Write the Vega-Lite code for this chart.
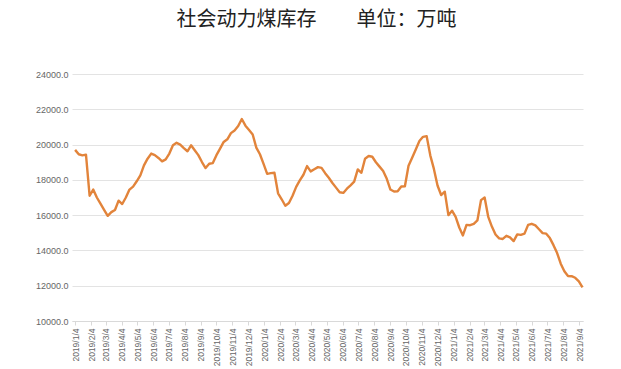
{
  "$schema": "https://vega.github.io/schema/vega-lite/v6.json",
  "width": 511,
  "height": 247,
  "autosize": "none",
  "padding": {"left": 72, "top": 74, "right": 38, "bottom": 48},
  "background": "white",
  "title": {
    "text": "社会动力煤库存　　单位：万吨",
    "font": "Noto Sans CJK SC",
    "fontSize": 20,
    "fontWeight": "normal",
    "color": "#222222",
    "anchor": "middle",
    "dx": -11,
    "offset": 40
  },
  "config": {"view": {"stroke": null}},
  "data": {
    "values": [
      {"d": "2019/1/4", "v": 19700}, {"d": "2019/1/11", "v": 19450}, {"d": "2019/1/18", "v": 19390}, {"d": "2019/1/25", "v": 19430},
      {"d": "2019/2/1", "v": 17100}, {"d": "2019/2/8", "v": 17450}, {"d": "2019/2/15", "v": 17000}, {"d": "2019/2/22", "v": 16650},
      {"d": "2019/3/1", "v": 16300}, {"d": "2019/3/8", "v": 15960}, {"d": "2019/3/15", "v": 16170}, {"d": "2019/3/22", "v": 16290}, {"d": "2019/3/29", "v": 16820},
      {"d": "2019/4/5", "v": 16630}, {"d": "2019/4/12", "v": 17000}, {"d": "2019/4/19", "v": 17450}, {"d": "2019/4/26", "v": 17620},
      {"d": "2019/5/3", "v": 17920}, {"d": "2019/5/10", "v": 18250}, {"d": "2019/5/17", "v": 18820}, {"d": "2019/5/24", "v": 19200}, {"d": "2019/5/31", "v": 19490},
      {"d": "2019/6/7", "v": 19400}, {"d": "2019/6/14", "v": 19240}, {"d": "2019/6/21", "v": 19050}, {"d": "2019/6/28", "v": 19160},
      {"d": "2019/7/5", "v": 19490}, {"d": "2019/7/12", "v": 19960}, {"d": "2019/7/19", "v": 20100}, {"d": "2019/7/26", "v": 20000},
      {"d": "2019/8/2", "v": 19800}, {"d": "2019/8/9", "v": 19620}, {"d": "2019/8/16", "v": 19960}, {"d": "2019/8/23", "v": 19680}, {"d": "2019/8/30", "v": 19400},
      {"d": "2019/9/6", "v": 19010}, {"d": "2019/9/13", "v": 18670}, {"d": "2019/9/20", "v": 18910}, {"d": "2019/9/27", "v": 18950},
      {"d": "2019/10/4", "v": 19400}, {"d": "2019/10/11", "v": 19770}, {"d": "2019/10/18", "v": 20150}, {"d": "2019/10/25", "v": 20300},
      {"d": "2019/11/1", "v": 20650}, {"d": "2019/11/8", "v": 20800}, {"d": "2019/11/15", "v": 21050}, {"d": "2019/11/22", "v": 21450}, {"d": "2019/11/29", "v": 21070},
      {"d": "2019/12/6", "v": 20820}, {"d": "2019/12/13", "v": 20570}, {"d": "2019/12/20", "v": 19830}, {"d": "2019/12/27", "v": 19450},
      {"d": "2020/1/3", "v": 18910}, {"d": "2020/1/10", "v": 18340}, {"d": "2020/1/17", "v": 18380}, {"d": "2020/1/24", "v": 18400}, {"d": "2020/1/31", "v": 17240},
      {"d": "2020/2/7", "v": 16900}, {"d": "2020/2/14", "v": 16530}, {"d": "2020/2/21", "v": 16690}, {"d": "2020/2/28", "v": 17100},
      {"d": "2020/3/6", "v": 17600}, {"d": "2020/3/13", "v": 17970}, {"d": "2020/3/20", "v": 18290}, {"d": "2020/3/27", "v": 18780},
      {"d": "2020/4/3", "v": 18480}, {"d": "2020/4/10", "v": 18600}, {"d": "2020/4/17", "v": 18720}, {"d": "2020/4/24", "v": 18680},
      {"d": "2020/5/1", "v": 18380}, {"d": "2020/5/8", "v": 18120}, {"d": "2020/5/15", "v": 17820}, {"d": "2020/5/22", "v": 17560}, {"d": "2020/5/29", "v": 17300},
      {"d": "2020/6/5", "v": 17260}, {"d": "2020/6/12", "v": 17500}, {"d": "2020/6/19", "v": 17690}, {"d": "2020/6/26", "v": 17900},
      {"d": "2020/7/3", "v": 18590}, {"d": "2020/7/10", "v": 18400}, {"d": "2020/7/17", "v": 19200}, {"d": "2020/7/24", "v": 19350}, {"d": "2020/7/31", "v": 19310},
      {"d": "2020/8/7", "v": 19000}, {"d": "2020/8/14", "v": 18750}, {"d": "2020/8/21", "v": 18500}, {"d": "2020/8/28", "v": 18060},
      {"d": "2020/9/4", "v": 17450}, {"d": "2020/9/11", "v": 17340}, {"d": "2020/9/18", "v": 17350}, {"d": "2020/9/25", "v": 17620},
      {"d": "2020/10/2", "v": 17640}, {"d": "2020/10/9", "v": 18800}, {"d": "2020/10/16", "v": 19250}, {"d": "2020/10/23", "v": 19720}, {"d": "2020/10/30", "v": 20200},
      {"d": "2020/11/6", "v": 20440}, {"d": "2020/11/13", "v": 20480}, {"d": "2020/11/20", "v": 19390}, {"d": "2020/11/27", "v": 18620},
      {"d": "2020/12/4", "v": 17680}, {"d": "2020/12/11", "v": 17140}, {"d": "2020/12/18", "v": 17330}, {"d": "2020/12/25", "v": 16000},
      {"d": "2021/1/1", "v": 16250}, {"d": "2021/1/8", "v": 15900}, {"d": "2021/1/15", "v": 15300}, {"d": "2021/1/22", "v": 14850}, {"d": "2021/1/29", "v": 15450},
      {"d": "2021/2/5", "v": 15430}, {"d": "2021/2/12", "v": 15500}, {"d": "2021/2/19", "v": 15700}, {"d": "2021/2/26", "v": 16850},
      {"d": "2021/3/5", "v": 17000}, {"d": "2021/3/12", "v": 15900}, {"d": "2021/3/19", "v": 15350}, {"d": "2021/3/26", "v": 14900},
      {"d": "2021/4/2", "v": 14680}, {"d": "2021/4/9", "v": 14650}, {"d": "2021/4/16", "v": 14830}, {"d": "2021/4/23", "v": 14740}, {"d": "2021/4/30", "v": 14530},
      {"d": "2021/5/7", "v": 14910}, {"d": "2021/5/14", "v": 14880}, {"d": "2021/5/21", "v": 14950}, {"d": "2021/5/28", "v": 15450},
      {"d": "2021/6/4", "v": 15510}, {"d": "2021/6/11", "v": 15420}, {"d": "2021/6/18", "v": 15200}, {"d": "2021/6/25", "v": 14980},
      {"d": "2021/7/2", "v": 14950}, {"d": "2021/7/9", "v": 14700}, {"d": "2021/7/16", "v": 14300}, {"d": "2021/7/23", "v": 13850}, {"d": "2021/7/30", "v": 13250},
      {"d": "2021/8/6", "v": 12820}, {"d": "2021/8/13", "v": 12550}, {"d": "2021/8/20", "v": 12540}, {"d": "2021/8/27", "v": 12450},
      {"d": "2021/9/3", "v": 12250}, {"d": "2021/9/10", "v": 11900}
    ]
  },
  "mark": {"type": "line", "color": "#E2843B", "strokeWidth": 2.4, "strokeJoin": "round"},
  "encoding": {
    "x": {
      "field": "d",
      "type": "temporal",
      "scale": {"domain": [{"year": 2018, "month": 12, "date": 29}, {"year": 2021, "month": 9, "date": 11}]},
      "axis": {
        "title": null,
        "format": "%Y/%-m/%-d",
        "labelAngle": -90,
        "labelFont": "Liberation Sans",
        "labelFontSize": 8.5,
        "labelColor": "#666666",
        "labelPadding": 3,
        "labelOverlap": false,
        "labelFlush": false,
        "grid": false,
        "domainColor": "#d9d9d9",
        "tickColor": "#d9d9d9",
        "tickSize": 4,
        "values": [
          {"year": 2019, "month": 1, "date": 4}, {"year": 2019, "month": 2, "date": 4}, {"year": 2019, "month": 3, "date": 4}, {"year": 2019, "month": 4, "date": 4},
          {"year": 2019, "month": 5, "date": 4}, {"year": 2019, "month": 6, "date": 4}, {"year": 2019, "month": 7, "date": 4}, {"year": 2019, "month": 8, "date": 4},
          {"year": 2019, "month": 9, "date": 4}, {"year": 2019, "month": 10, "date": 4}, {"year": 2019, "month": 11, "date": 4}, {"year": 2019, "month": 12, "date": 4},
          {"year": 2020, "month": 1, "date": 4}, {"year": 2020, "month": 2, "date": 4}, {"year": 2020, "month": 3, "date": 4}, {"year": 2020, "month": 4, "date": 4},
          {"year": 2020, "month": 5, "date": 4}, {"year": 2020, "month": 6, "date": 4}, {"year": 2020, "month": 7, "date": 4}, {"year": 2020, "month": 8, "date": 4},
          {"year": 2020, "month": 9, "date": 4}, {"year": 2020, "month": 10, "date": 4}, {"year": 2020, "month": 11, "date": 4}, {"year": 2020, "month": 12, "date": 4},
          {"year": 2021, "month": 1, "date": 4}, {"year": 2021, "month": 2, "date": 4}, {"year": 2021, "month": 3, "date": 4}, {"year": 2021, "month": 4, "date": 4},
          {"year": 2021, "month": 5, "date": 4}, {"year": 2021, "month": 6, "date": 4}, {"year": 2021, "month": 7, "date": 4}, {"year": 2021, "month": 8, "date": 4},
          {"year": 2021, "month": 9, "date": 4}
        ]
      }
    },
    "y": {
      "field": "v",
      "type": "quantitative",
      "scale": {"domain": [10000, 24000], "nice": false, "zero": false},
      "axis": {
        "title": null,
        "values": [10000, 12000, 14000, 16000, 18000, 20000, 22000, 24000],
        "format": ".1f",
        "labelFont": "Liberation Sans",
        "labelFontSize": 9,
        "labelColor": "#666666",
        "labelPadding": 4,
        "domain": false,
        "ticks": false,
        "gridColor": "#e3e3e3",
        "gridWidth": 1
      }
    }
  }
}
